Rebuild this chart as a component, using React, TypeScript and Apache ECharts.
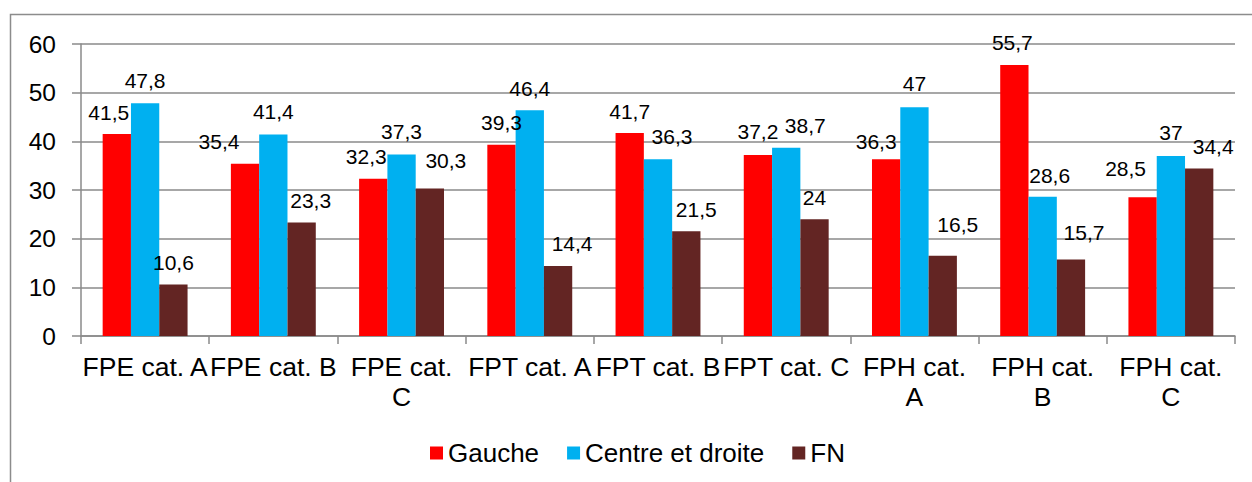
import React, { useEffect, useRef } from "react";
import * as echarts from "echarts";

const categories = [
  "FPE cat. A",
  "FPE cat. B",
  "FPE cat. C",
  "FPT cat. A",
  "FPT cat. B",
  "FPT cat. C",
  "FPH cat. A",
  "FPH cat. B",
  "FPH cat. C",
];
const wrappedCategories = [2, 6, 7, 8];

const gauche = [41.5, 35.4, 32.3, 39.3, 41.7, 37.2, 36.3, 55.7, 28.5];
const centreDroite = [47.8, 41.4, 37.3, 46.4, 36.3, 38.7, 47, 28.6, 37];
const fn = [10.6, 23.3, 30.3, 14.4, 21.5, 24, 16.5, 15.7, 34.4];

const yTicks = { min: 0, max: 60, interval: 10 };

// label nudges (px) imitating the manually moved labels of the original
const gaucheOffsets = [[-8, 0], [-26, 0], [-7, 0], [0, 0], [0, 0], [0, -1], [-10, 4], [-2, 0], [-17, -7]];
const centreOffsets = [[0, -1], [0, -1], [0, -1], [0, 0], [14, -1], [19, 0], [0, -2], [7, 1], [0, -1]];
const fnOffsets = [[0, 0], [9, 0], [16, -6], [14, 0], [10, 0], [0, 0], [15, -9], [13, -5], [14, 0]];

const FONT = "'Liberation Sans', Arial, sans-serif";
const GRID = "#8a8a8a";

function fmt(v: number) {
  return String(v).replace(".", ",");
}

function makeSeries(name: string, values: number[], color: string, offsets: number[][]) {
  return {
    name,
    type: "bar",
    barWidth: 28.3,
    barGap: "0%",
    itemStyle: { color },
    data: values.map((v, i) => ({
      value: v,
      label: { offset: offsets[i] },
    })),
    label: {
      show: true,
      position: "top",
      distance: 11.5,
      fontSize: 21,
      fontFamily: FONT,
      color: "#000",
      formatter: (p: any) => fmt(p.value),
    },
  };
}

export default function App() {
  const ref = useRef<HTMLDivElement>(null);
  useEffect(() => {
    if (!ref.current) return;
    const chart = echarts.init(ref.current, undefined, { renderer: "svg" });
    chart.setOption({
      animation: false,
      backgroundColor: "#fff",
      textStyle: { fontFamily: FONT },
      graphic: [
        {
          type: "rect",
          silent: true,
          z: -10,
          shape: { x: 10.5, y: 14.5, width: 1400, height: 800 },
          style: { fill: "none", stroke: "#8c8c8c", lineWidth: 1.5 },
        },
      ],
      grid: { left: 81, top: 44, right: 17, bottom: 146, containLabel: false },
      legend: {
        left: 430,
        top: 440,
        padding: 0,
        itemWidth: 13,
        itemHeight: 13,
        itemGap: 28,
        icon: "rect",
        textStyle: { fontSize: 26, color: "#000", fontFamily: FONT, lineHeight: 26 },
        data: ["Gauche", "Centre et droite", "FN"],
      },
      xAxis: {
        type: "category",
        data: categories,
        axisLine: { lineStyle: { color: GRID, width: 1.5 } },
        axisTick: { show: true, length: 8, lineStyle: { color: GRID, width: 1.5 } },
        axisLabel: {
          interval: 0,
          margin: 16,
          fontSize: 26.5,
          lineHeight: 30,
          color: "#000",
          fontFamily: FONT,
          formatter: (v: string) => {
            const i = categories.indexOf(v);
            return wrappedCategories.includes(i) ? v.replace(" cat. ", " cat.\n") : v;
          },
        },
      },
      yAxis: {
        type: "value",
        min: yTicks.min,
        max: yTicks.max,
        interval: yTicks.interval,
        axisLine: { show: true, lineStyle: { color: GRID, width: 1.5 } },
        axisTick: { show: true, length: 9, lineStyle: { color: GRID, width: 1.5 } },
        splitLine: { show: true, lineStyle: { color: GRID, width: 1.5 } },
        axisLabel: { margin: 25, fontSize: 24.5, color: "#000", fontFamily: FONT },
      },
      series: [
        makeSeries("Gauche", gauche, "#FF0000", gaucheOffsets),
        makeSeries("Centre et droite", centreDroite, "#00B0F0", centreOffsets),
        makeSeries("FN", fn, "#632523", fnOffsets),
      ],
    });
    return () => chart.dispose();
  }, []);
  return (
    <div
      ref={ref}
      style={{ position: "fixed", left: 0, top: 0, width: 1252, height: 482, background: "#fff" }}
    />
  );
}
